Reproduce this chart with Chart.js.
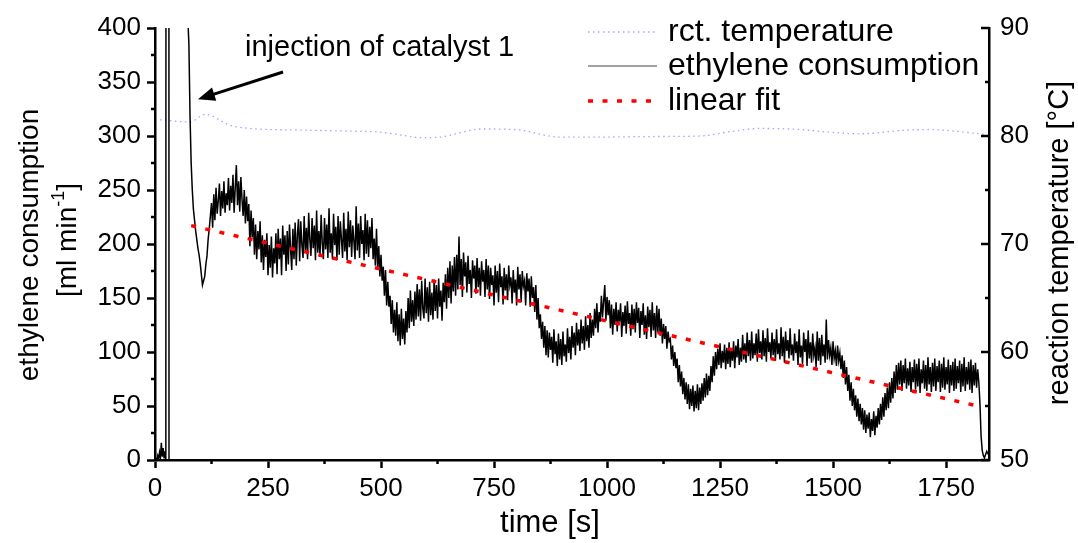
<!DOCTYPE html>
<html>
<head>
<meta charset="utf-8">
<script src="https://cdn.jsdelivr.net/npm/chart.js@4"></script>
<style>
  html, body { margin: 0; padding: 0; background: #fff; }
</style>
</head>
<body>
<canvas id="chart" width="1078" height="543"></canvas>
<script>
// start-up phase: baseline noise, then the off-scale spike and a logging gap
const earlyTimes = [0, 2, 4, 6, 8, 10, 12, 14, 16, 18, 20, 22, 24, 25, 30, 31, 33];
const earlyValues = [0, 1, 0, 4, 1, 7, 2, 16, 3, 11, 2, 8, 1, 2000, 2000, 0, null];

// ethylene consumption [ml/min], one row per 50 s, sampled every 2.5 s from t = 70 s
const consStart = 70;
const consStep = 2.5;
const consRows = [
  [440, 410, 385, 318, 275, 250, 232, 222, 212, 204, 196, 190, 182, 172, 162, 166, 170, 181, 189, 204],
  [214, 226, 238, 215, 246, 222, 252, 228, 240, 256, 226, 249, 233, 258, 229, 247, 236, 261, 231, 254],
  [238, 264, 229, 252, 273, 236, 258, 230, 262, 241, 226, 250, 219, 244, 221, 237, 198, 231, 206, 224],
  [190, 218, 186, 212, 195, 221, 183, 208, 176, 204, 188, 210, 171, 199, 178, 207, 169, 196, 182, 210],
  [172, 214, 186, 205, 171, 217, 190, 208, 175, 212, 181, 218, 195, 176, 214, 186, 220, 180, 209, 223],
  [184, 221, 199, 187, 226, 193, 215, 186, 229, 204, 189, 224, 196, 217, 185, 231, 192, 212, 188, 227],
  [201, 186, 224, 195, 218, 187, 233, 192, 210, 186, 228, 199, 216, 185, 226, 190, 221, 204, 187, 229],
  [193, 214, 185, 230, 197, 222, 188, 217, 203, 186, 235, 194, 219, 187, 226, 200, 213, 185, 228, 191],
  [222, 188, 216, 196, 224, 186, 205, 180, 214, 178, 198, 170, 190, 166, 179, 152, 176, 143, 165, 142],
  [152, 126, 148, 118, 139, 115, 146, 110, 135, 106, 140, 112, 131, 107, 138, 118, 150, 122, 157, 128],
  [148, 124, 156, 130, 163, 133, 158, 129, 166, 140, 131, 168, 136, 160, 128, 165, 134, 155, 130, 167],
  [138, 162, 131, 168, 142, 157, 129, 164, 146, 172, 140, 178, 150, 184, 145, 180, 156, 188, 152, 190],
  [158, 207, 162, 186, 151, 192, 170, 183, 155, 189, 163, 176, 150, 185, 168, 180, 154, 187, 160, 178],
  [152, 184, 165, 176, 151, 186, 158, 180, 149, 178, 162, 171, 143, 180, 155, 175, 146, 182, 160, 170],
  [144, 178, 157, 172, 148, 180, 162, 169, 145, 176, 155, 167, 143, 179, 158, 172, 146, 175, 161, 166],
  [143, 173, 156, 168, 142, 170, 150, 160, 137, 162, 130, 150, 122, 135, 112, 128, 104, 124, 97, 120],
  [95, 118, 102, 114, 90, 121, 98, 110, 87, 117, 93, 112, 88, 119, 96, 107, 91, 122, 99, 114],
  [93, 124, 104, 118, 97, 127, 106, 121, 101, 130, 108, 124, 102, 133, 110, 125, 104, 136, 113, 130],
  [115, 140, 122, 145, 118, 137, 128, 152, 132, 147, 162, 129, 151, 134, 148, 122, 144, 116, 140, 125],
  [146, 119, 139, 128, 145, 114, 137, 124, 143, 117, 147, 126, 136, 115, 144, 121, 140, 118, 146, 127],
  [141, 113, 138, 125, 145, 116, 134, 112, 142, 123, 139, 114, 146, 120, 136, 113, 143, 118, 140, 115],
  [131, 108, 126, 112, 124, 103, 119, 110, 112, 93, 106, 87, 100, 85, 94, 72, 88, 68, 82, 61],
  [76, 56, 72, 52, 70, 47, 66, 50, 69, 45, 64, 48, 70, 46, 67, 52, 71, 55, 76, 58],
  [80, 60, 78, 64, 87, 72, 96, 78, 100, 84, 103, 88, 108, 85, 101, 90, 107, 84, 104, 89],
  [109, 86, 103, 92, 110, 85, 106, 95, 112, 88, 104, 91, 116, 93, 108, 90, 118, 96, 111, 92],
  [119, 94, 108, 97, 117, 91, 121, 99, 110, 93, 120, 96, 113, 91, 122, 100, 109, 94, 118, 97],
  [112, 92, 121, 98, 108, 93, 123, 96, 114, 90, 119, 101, 111, 94, 122, 97, 107, 92, 117, 99],
  [110, 88, 121, 95, 106, 89, 118, 100, 112, 87, 120, 94, 109, 90, 117, 97, 104, 86, 119, 92],
  [113, 88, 116, 96, 107, 90, 130, 93, 111, 97, 104, 88, 110, 94, 101, 87, 106, 92, 99, 84],
  [97, 76, 92, 70, 86, 64, 79, 55, 72, 50, 66, 46, 60, 40, 57, 36, 52, 33, 48, 28],
  [46, 25, 42, 29, 44, 21, 38, 27, 45, 23, 41, 30, 48, 33, 52, 37, 58, 40, 62, 46],
  [67, 48, 72, 53, 76, 57, 82, 62, 88, 65, 90, 70, 92, 64, 88, 71, 94, 66, 85, 69],
  [91, 63, 86, 72, 93, 65, 89, 68, 94, 62, 84, 71, 92, 66, 88, 64, 95, 70, 86, 63],
  [90, 68, 94, 64, 87, 72, 92, 63, 89, 67, 95, 65, 86, 70, 93, 62, 88, 69, 91, 64],
  [94, 66, 87, 71, 92, 63, 89, 68, 95, 64, 86, 70, 91, 65, 93, 62, 88, 69, 90, 67],
  [84, 72, 52, 22, 9, 4, 2, 5, 8, 6, 4]
];
const consValues = consRows.flat();

// reactor temperature [°C]
const tempTimes = [11, 77, 111, 166, 210, 321, 431, 498, 542, 586, 631, 675, 719, 796, 896,
  985, 1095, 1206, 1272, 1338, 1427, 1493, 1560, 1648, 1715, 1781, 1836];
const tempValues = [81.5, 81.3, 82.0, 81.0, 80.7, 80.55, 80.45, 80.35, 80.1, 79.85, 79.9, 80.3, 80.65, 80.6, 79.9,
  79.9, 79.95, 80.0, 80.4, 80.7, 80.6, 80.35, 80.2, 80.5, 80.6, 80.4, 80.15];

// linear fit end points
const fitTimes = [80, 1820];
const fitValues = [217, 50];

const FONT = "'Liberation Sans', Arial, sans-serif";
const TEMP_COLOR = 'rgb(165, 165, 255)';

const consData = earlyTimes.map((t, i) => ({ x: t, y: earlyValues[i] }))
  .concat(consValues.map((v, i) => ({ x: consStart + i * consStep, y: v })));
const tempData = tempTimes.map((t, i) => ({ x: t, y: tempValues[i] }));
const fitData = fitTimes.map((t, i) => ({ x: t, y: fitValues[i] }));

// minor ticks, inward ticks on the right axis, titles, legend and the arrow note
const decorPlugin = {
  id: 'decor',
  afterDraw(chart) {
    const ctx = chart.ctx;
    const xs = chart.scales.x, ys = chart.scales.y, ts = chart.scales.yT;
    const area = chart.chartArea;
    ctx.save();
    ctx.strokeStyle = '#000';
    ctx.lineWidth = 2.5;
    ctx.beginPath();
    for (let v = 25; v < 400; v += 50) {
      const py = ys.getPixelForValue(v);
      ctx.moveTo(area.left - 4, py); ctx.lineTo(area.left, py);
    }
    for (let v = 125; v < 1845; v += 250) {
      const px = xs.getPixelForValue(v);
      ctx.moveTo(px, area.bottom); ctx.lineTo(px, area.bottom + 4);
    }
    for (let v = 50; v <= 90; v += 5) {
      const py = ts.getPixelForValue(v);
      const len = v % 10 === 0 ? 8 : 4;
      ctx.moveTo(area.right - len, py); ctx.lineTo(area.right, py);
    }
    ctx.stroke();

    ctx.fillStyle = '#000';
    ctx.textAlign = 'center';
    ctx.textBaseline = 'middle';

    // x title
    ctx.font = '31px ' + FONT;
    ctx.fillText('time [s]', 550, 523);

    // left title, two rotated lines
    ctx.font = '28px ' + FONT;
    ctx.save();
    ctx.translate(30, 245);
    ctx.rotate(-Math.PI / 2);
    ctx.fillText('ethylene consumption', 0, 0);
    ctx.restore();

    ctx.save();
    ctx.translate(68, 240);
    ctx.rotate(-Math.PI / 2);
    const a = '[ml min', sup = '-1', b = ']';
    const wa = ctx.measureText(a).width, wb = ctx.measureText(b).width;
    ctx.font = '18px ' + FONT;
    const ws = ctx.measureText(sup).width;
    const x0 = -(wa + ws + wb) / 2;
    ctx.textAlign = 'left';
    ctx.font = '28px ' + FONT;
    ctx.fillText(a, x0, 0);
    ctx.font = '18px ' + FONT;
    ctx.fillText(sup, x0 + wa, -9);
    ctx.font = '28px ' + FONT;
    ctx.fillText(b, x0 + wa + ws, 0);
    ctx.restore();

    // right title
    ctx.font = '29px ' + FONT;
    ctx.save();
    ctx.translate(1060, 243);
    ctx.rotate(-Math.PI / 2);
    ctx.fillText('reaction temperature [°C]', 0, 0);
    ctx.restore();

    // legend
    const rows = [
      { ds: chart.data.datasets[0], y: 32 },
      { ds: chart.data.datasets[1], y: 66 },
      { ds: chart.data.datasets[2], y: 101 }
    ];
    ctx.font = '32px ' + FONT;
    ctx.textAlign = 'left';
    rows.forEach(r => {
      ctx.save();
      ctx.strokeStyle = r.ds.legendColor || r.ds.borderColor;
      ctx.lineWidth = r.ds.legendWidth || r.ds.borderWidth;
      ctx.setLineDash(r.ds.borderDash || []);
      ctx.beginPath();
      ctx.moveTo(588, r.y);
      ctx.lineTo(657, r.y);
      ctx.stroke();
      ctx.restore();
      ctx.fillText(r.ds.label, 668, r.y);
    });

    // arrow note at the injection point
    ctx.font = '29px ' + FONT;
    ctx.fillText('injection of catalyst 1', 245, 48);
    const tipX = xs.getPixelForValue(95), tipY = ys.getPixelForValue(334);
    const tailX = 283, tailY = 72;
    const ang = Math.atan2(tipY - tailY, tipX - tailX);
    ctx.lineWidth = 3;
    ctx.beginPath();
    ctx.moveTo(tailX, tailY);
    ctx.lineTo(tipX - 12 * Math.cos(ang), tipY - 12 * Math.sin(ang));
    ctx.stroke();
    ctx.beginPath();
    ctx.moveTo(tipX, tipY);
    ctx.lineTo(tipX - 17 * Math.cos(ang) + 7 * Math.sin(ang), tipY - 17 * Math.sin(ang) - 7 * Math.cos(ang));
    ctx.lineTo(tipX - 17 * Math.cos(ang) - 7 * Math.sin(ang), tipY - 17 * Math.sin(ang) + 7 * Math.cos(ang));
    ctx.closePath();
    ctx.fill();
    ctx.restore();
  }
};

const tickFont = { family: FONT, size: 26 };
const plainLabel = v => String(v);
const axisGrid = { display: true, drawOnChartArea: false, tickLength: 8, tickWidth: 2.5, tickColor: '#000' };
const axisBorder = { display: true, color: '#000', width: 2.5 };

new Chart(document.getElementById('chart'), {
  type: 'line',
  data: {
    datasets: [
      {
        label: 'rct. temperature',
        data: tempData,
        yAxisID: 'yT',
        borderColor: TEMP_COLOR,
        borderWidth: 1.3,
        borderDash: [1.5, 3.5],
        cubicInterpolationMode: 'monotone',
        pointRadius: 0,
        order: 2
      },
      {
        label: 'ethylene consumption',
        data: consData,
        yAxisID: 'y',
        borderColor: '#000',
        legendColor: '#444',
        legendWidth: 1,
        borderWidth: 1.5,
        pointRadius: 0,
        spanGaps: false,
        order: 1
      },
      {
        label: 'linear fit',
        data: fitData,
        yAxisID: 'y',
        borderColor: 'rgb(255, 0, 0)',
        borderWidth: 3.5,
        borderDash: [5, 9.5],
        pointRadius: 0,
        order: 0
      }
    ]
  },
  options: {
    responsive: false,
    animation: false,
    parsing: false,
    layout: { padding: { top: 28, left: 0, right: 0, bottom: 0 } },
    plugins: { legend: { display: false }, tooltip: { enabled: false } },
    scales: {
      x: {
        type: 'linear',
        position: 'bottom',
        min: 0,
        max: 1845,
        ticks: { stepSize: 250, includeBounds: false, color: '#000', font: tickFont, padding: 5, maxRotation: 0, callback: plainLabel },
        grid: axisGrid,
        border: axisBorder,
        afterFit: s => { s.height = 83; }
      },
      y: {
        position: 'left',
        min: 0,
        max: 400,
        ticks: { stepSize: 50, color: '#000', font: tickFont, padding: 6, callback: plainLabel },
        grid: axisGrid,
        border: axisBorder,
        afterFit: s => { s.width = 155; }
      },
      yT: {
        position: 'right',
        min: 50,
        max: 90,
        ticks: { stepSize: 10, color: '#000', font: tickFont, padding: 11, callback: plainLabel },
        grid: { display: true, drawOnChartArea: false, drawTicks: false },
        border: axisBorder,
        afterFit: s => { s.width = 89; }
      }
    }
  },
  plugins: [decorPlugin]
});
</script>
</body>
</html>
